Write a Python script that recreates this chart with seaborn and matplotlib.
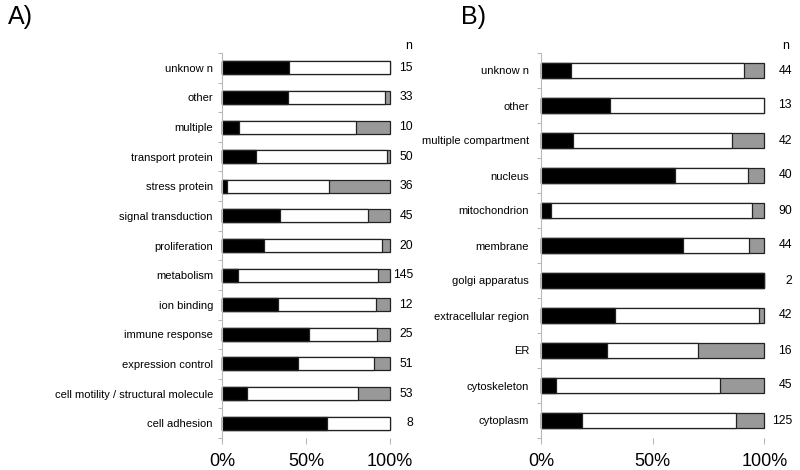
import pandas as pd
import matplotlib
matplotlib.use("Agg")
import matplotlib.pyplot as plt
import seaborn as sns
from matplotlib.ticker import FixedLocator

# Panel A data (top to bottom), percentages per category
cats_a = ["unknow n", "other", "multiple", "transport protein", "stress protein",
          "signal transduction", "proliferation", "metabolism", "ion binding",
          "immune response", "expression control", "cell motility / structural molecule",
          "cell adhesion"]
black_a = [40.0, 39.4, 10.0, 20.0, 2.8, 34.7, 25.0, 9.7, 33.3, 52.0, 45.1, 15.1, 62.5]
white_a = [60.0, 57.6, 70.0, 78.0, 61.1, 52.0, 70.0, 83.3, 58.4, 40.0, 45.1, 66.0, 37.5]
gray_a = [0.0, 3.0, 20.0, 2.0, 36.1, 13.3, 5.0, 7.0, 8.3, 8.0, 9.8, 18.9, 0.0]
n_a = [15, 33, 10, 50, 36, 45, 20, 145, 12, 25, 51, 53, 8]

# Panel B data (top to bottom)
cats_b = ["unknow n", "other", "multiple compartment", "nucleus", "mitochondrion",
          "membrane", "golgi apparatus", "extracellular region", "ER", "cytoskeleton",
          "cytoplasm"]
black_b = [13.6, 30.8, 14.3, 60.0, 4.4, 63.6, 100.0, 33.3, 29.7, 6.7, 18.4]
white_b = [77.3, 69.2, 71.4, 32.5, 90.0, 29.6, 0.0, 64.3, 40.6, 73.3, 68.8]
gray_b = [9.1, 0.0, 14.3, 7.5, 5.6, 6.8, 0.0, 2.4, 29.7, 20.0, 12.8]
n_b = [44, 13, 42, 40, 90, 44, 2, 42, 16, 45, 125]

sns.set_style("white")
plt.rcParams['font.family'] = ['Liberation Sans', 'DejaVu Sans']
plt.rcParams['text.color'] = 'black'
plt.rcParams['xtick.labelcolor'] = 'black'
plt.rcParams['ytick.labelcolor'] = 'black'

axis_grey = "#b8b8b8"
edge = "#222222"


def stacked_panel(ax, cats, black, white, gray, counts, count_x, bar_h, label_pad):
    df = pd.DataFrame({"cat": cats, "black": black, "white": white, "gray": gray})
    df["bw"] = df["black"] + df["white"]
    df["total"] = df["bw"] + df["gray"]
    # draw from the longest (cumulative) to the shortest so the segments stack
    for col, color in [("total", "#999999"), ("bw", "white"), ("black", "black")]:
        sns.barplot(data=df, x=col, y="cat", orient="h", color=color, width=bar_h,
                    edgecolor=edge, linewidth=0.9, ax=ax, saturation=1)
    for p in ax.patches:
        p.set_clip_on(False)
    ax.set_xlim(0, 100)
    ax.set_ylim(len(cats) - 0.5, -0.5)
    ax.set_xlabel("")
    ax.set_ylabel("")
    ax.set_xticks([0, 50, 100])
    ax.set_xticklabels(["0%", "50%", "100%"], fontsize=13)
    ax.tick_params(axis="x", length=4, color=axis_grey, width=0.8, pad=7, bottom=True)
    ax.tick_params(axis="y", which="major", length=0, pad=label_pad, labelsize=8)
    ax.yaxis.set_minor_locator(FixedLocator([i - 0.5 for i in range(len(cats) + 1)]))
    ax.tick_params(axis="y", which="minor", length=3, color=axis_grey, width=0.8, left=True)
    for s in ["top", "right", "bottom"]:
        ax.spines[s].set_visible(False)
    ax.spines["left"].set_color(axis_grey)
    ax.spines["left"].set_linewidth(0.8)
    for i, n in enumerate(counts):
        ax.text(count_x, i, str(n), transform=ax.get_yaxis_transform(),
                ha="right", va="center", fontsize=8.8)


fig = plt.figure(figsize=(8, 4.7), dpi=100)
ax_a = fig.add_axes([222 / 800, 1 - 438 / 470, 168 / 800, 385 / 470])
ax_b = fig.add_axes([541 / 800, 1 - 438 / 470, 223.3 / 800, 385 / 470])

stacked_panel(ax_a, cats_a, black_a, white_a, gray_a, n_a, 1.137, 0.44, 6.5)
stacked_panel(ax_b, cats_b, black_b, white_b, gray_b, n_b, 1.124, 0.43, 8.5)

# panel letters and column headers
fig.text(8 / 800, 1 - 17 / 470, "A)", fontsize=18, va="center", ha="left")
fig.text(461 / 800, 1 - 17 / 470, "B)", fontsize=18, va="center", ha="left")
fig.text(409 / 800, 1 - 46 / 470, "n", fontsize=8.8, va="center", ha="center")
fig.text(786 / 800, 1 - 46 / 470, "n", fontsize=8.8, va="center", ha="center")

fig.savefig("out.png", dpi=100)
